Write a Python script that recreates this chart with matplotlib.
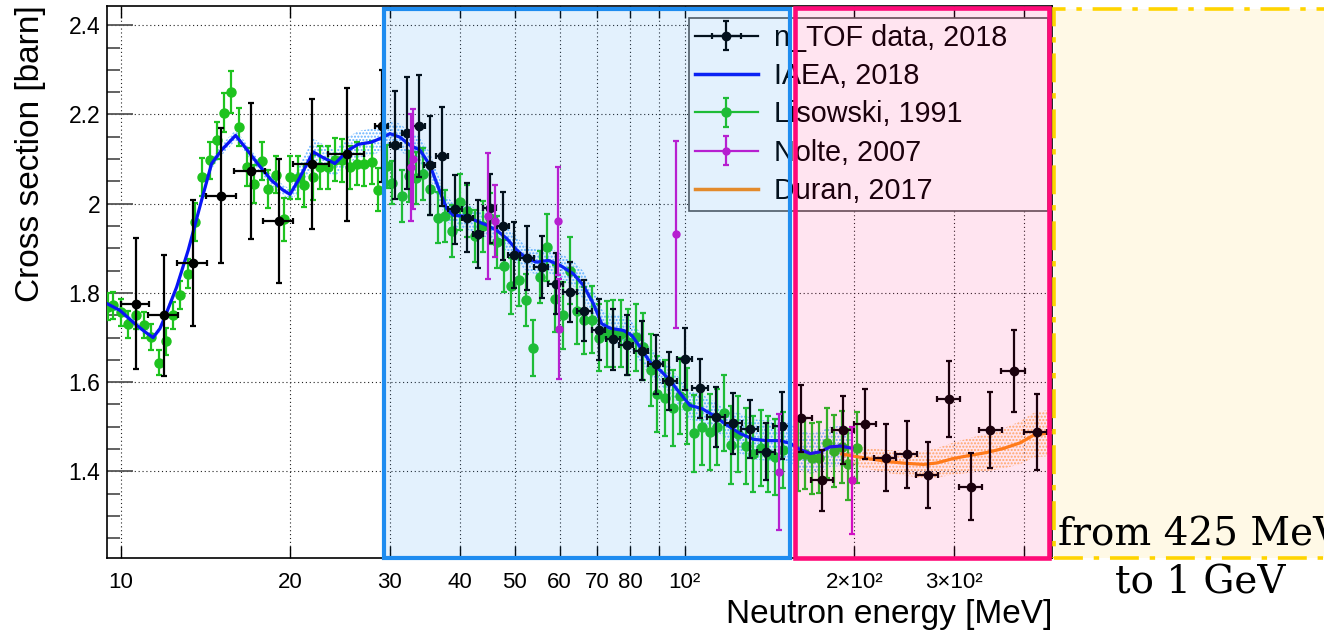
import numpy as np
import matplotlib
matplotlib.use('Agg')
import matplotlib.pyplot as plt
from matplotlib.patches import Rectangle
from matplotlib.lines import Line2D
from matplotlib.ticker import FixedLocator, FixedFormatter, MultipleLocator, NullLocator

plt.rcParams['font.family'] = ['Liberation Sans', 'DejaVu Sans']
plt.rcParams['hatch.linewidth'] = 1.0

# n_TOF data, 2018 (energy bin centre / edges in MeV, cross section in barn)
ntof_e = [10.65, 11.92, 13.45, 15.06, 17.01, 19.11, 21.87, 25.23, 29.03, 30.65,
          32.15, 33.81, 35.32, 37.10, 39.16, 41.18, 43.07, 45.18, 47.59, 49.89,
          52.48, 55.94, 59.09, 62.64, 66.32, 70.43, 74.67, 79.06, 83.95, 88.90,
          93.97, 100.2, 106.6, 113.7, 122.0, 130.6, 139.3, 148.7, 160.9, 175.0,
          191.2, 208.9, 227.4, 247.7, 269.9, 294.7, 321.7, 348.0, 383.4, 421.1]
ntof_lo = [10.00, 11.19, 12.60, 14.15, 15.90, 17.90, 20.23, 23.29, 28.25, 30.03,
           31.50, 33.03, 34.55, 36.24, 38.11, 40.25, 42.20, 43.96, 46.43, 48.69,
           51.07, 54.07, 57.32, 60.95, 64.38, 68.44, 72.56, 76.52, 81.45, 86.25,
           91.48, 96.83, 102.9, 109.4, 117.9, 125.9, 134.2, 143.7, 157.0, 167.3,
           182.4, 199.8, 217.0, 236.1, 257.2, 280.6, 307.0, 332.6, 363.7, 400.4]
ntof_hi = [11.24, 12.65, 14.22, 15.99, 18.05, 20.23, 23.41, 27.04, 29.83, 31.37,
           32.90, 34.65, 36.09, 38.11, 40.25, 42.10, 43.96, 46.30, 48.89, 51.07,
           54.07, 57.32, 60.95, 64.38, 68.44, 72.26, 76.83, 81.14, 86.25, 91.70,
           96.83, 102.9, 110.2, 117.9, 126.2, 135.1, 144.7, 152.8, 168.0, 183.1,
           199.8, 218.5, 237.1, 258.6, 281.8, 307.9, 336.3, 365.2, 401.5, 438.6]
ntof_xs = [1.776, 1.750, 1.867, 2.018, 2.073, 1.961, 2.089, 2.111, 2.174, 2.131,
           2.159, 2.174, 2.086, 2.106, 1.987, 1.969, 1.932, 1.990, 1.950, 1.886,
           1.879, 1.858, 1.821, 1.802, 1.760, 1.718, 1.696, 1.683, 1.670, 1.640,
           1.602, 1.652, 1.586, 1.522, 1.508, 1.494, 1.444, 1.502, 1.519, 1.380,
           1.493, 1.506, 1.431, 1.438, 1.392, 1.562, 1.366, 1.493, 1.625, 1.488]
ntof_err = [0.147, 0.136, 0.141, 0.151, 0.153, 0.139, 0.146, 0.149, 0.125, 0.121,
            0.125, 0.114, 0.111, 0.111, 0.077, 0.078, 0.077, 0.077, 0.077, 0.074,
            0.072, 0.069, 0.068, 0.068, 0.068, 0.068, 0.068, 0.068, 0.066, 0.066,
            0.065, 0.069, 0.067, 0.067, 0.068, 0.065, 0.064, 0.075, 0.075, 0.068,
            0.077, 0.078, 0.075, 0.075, 0.075, 0.085, 0.075, 0.085, 0.092, 0.085]

# IAEA, 2018 evaluation
iaea_e = [9.46, 9.97, 10.60, 11.04, 11.42, 11.74, 11.98, 12.57, 13.18, 13.92,
          14.50, 15.10, 15.99, 16.61, 17.54, 18.52, 19.43, 19.97, 20.65, 21.96,
          22.72, 23.99, 25.33, 26.38, 27.87, 29.22, 30.03, 31.28, 32.59, 33.95,
          35.36, 36.57, 37.85, 38.89, 40.80, 42.78, 44.58, 46.44, 48.37, 50.40,
          52.48, 54.66, 57.33, 60.12, 63.47, 66.12, 68.88, 71.28, 73.74, 77.87,
          80.59, 83.34, 86.82, 90.44, 94.21, 98.13, 102.2, 107.2, 112.4, 118.8,
          125.4, 132.4, 139.8, 147.6, 153.8, 160.2, 166.9, 173.9, 181.1, 188.7,
          197.9]
iaea_xs = [1.776, 1.761, 1.731, 1.713, 1.700, 1.720, 1.746, 1.813, 1.896, 2.008,
           2.090, 2.120, 2.153, 2.127, 2.088, 2.052, 2.030, 2.021, 2.052, 2.116,
           2.105, 2.090, 2.120, 2.133, 2.138, 2.149, 2.157, 2.149, 2.131, 2.120,
           2.086, 2.037, 1.989, 1.974, 1.972, 1.961, 1.952, 1.940, 1.922, 1.896,
           1.877, 1.869, 1.873, 1.862, 1.843, 1.817, 1.776, 1.731, 1.721, 1.716,
           1.705, 1.679, 1.645, 1.627, 1.604, 1.575, 1.548, 1.541, 1.526, 1.504,
           1.485, 1.472, 1.469, 1.469, 1.463, 1.449, 1.440, 1.444, 1.455, 1.457,
           1.452]
iaea_band = [0.008, 0.008, 0.008, 0.008, 0.008, 0.008, 0.008, 0.008, 0.008, 0.008,
             0.012, 0.012, 0.012, 0.012, 0.012, 0.012, 0.012, 0.012, 0.030, 0.030,
             0.030, 0.030, 0.030, 0.030, 0.030, 0.030, 0.030, 0.030, 0.030, 0.030,
             0.028, 0.028, 0.028, 0.028, 0.028, 0.028, 0.028, 0.028, 0.028, 0.028,
             0.028, 0.028, 0.028, 0.028, 0.028, 0.032, 0.032, 0.032, 0.032, 0.032,
             0.032, 0.032, 0.032, 0.032, 0.032, 0.032, 0.032, 0.032, 0.032, 0.032,
             0.045, 0.045, 0.045, 0.045, 0.045, 0.045, 0.045, 0.045, 0.045, 0.045,
             0.045]

# Lisowski, 1991
lis_e = [9.48, 9.70, 10.01, 10.31, 10.65, 11.00, 11.30, 11.71, 12.03, 12.40,
         12.77, 13.16, 13.55, 13.97, 14.38, 14.82, 15.25, 15.69, 16.22, 16.72,
         17.24, 17.78, 18.27, 18.86, 19.46, 19.99, 20.60, 21.18, 21.89, 22.60,
         23.29, 23.99, 24.66, 25.46, 26.25, 27.04, 27.87, 28.63, 29.63, 30.32,
         31.50, 32.42, 33.40, 34.33, 35.36, 36.49, 37.60, 38.64, 39.97, 41.18,
         42.50, 43.86, 45.18, 46.43, 47.84, 49.17, 50.86, 52.27, 53.92, 55.42,
         57.09, 58.92, 60.80, 62.64, 64.38, 66.32, 68.53, 70.60, 72.77, 74.76,
         77.05, 79.48, 81.92, 84.50, 87.10, 89.48, 92.34, 95.52, 98.14, 100.9,
         103.9, 107.2, 110.9, 114.0, 117.5, 120.9, 124.5, 128.3, 132.4, 136.4,
         140.4, 144.7, 149.6, 159.1, 163.5, 168.0, 173.3, 178.6, 184.1, 189.9,
         195.1, 201.9]
lis_xs = [1.769, 1.772, 1.757, 1.730, 1.750, 1.728, 1.701, 1.643, 1.692, 1.750,
          1.795, 1.843, 1.959, 2.060, 2.097, 2.142, 2.204, 2.250, 2.172, 2.082,
          2.044, 2.096, 2.033, 2.065, 1.965, 2.059, 2.058, 2.041, 2.059, 2.082,
          2.082, 2.099, 2.097, 2.082, 2.090, 2.088, 2.093, 2.031, 2.084, 2.047,
          2.017, 2.061, 2.058, 2.066, 2.032, 1.969, 1.972, 1.939, 2.004, 1.984,
          1.927, 1.949, 1.967, 1.914, 1.860, 1.815, 1.828, 1.785, 1.676, 1.835,
          1.902, 1.787, 1.750, 1.850, 1.760, 1.739, 1.740, 1.700, 1.708, 1.710,
          1.709, 1.690, 1.701, 1.679, 1.627, 1.573, 1.564, 1.543, 1.569, 1.546,
          1.485, 1.500, 1.489, 1.500, 1.531, 1.459, 1.484, 1.457, 1.439, 1.452,
          1.439, 1.433, 1.448, 1.437, 1.440, 1.429, 1.431, 1.464, 1.446, 1.455,
          1.416, 1.453]
lis_err = [0.030, 0.030, 0.030, 0.030, 0.030, 0.030, 0.030, 0.028, 0.030, 0.030,
           0.032, 0.033, 0.042, 0.042, 0.042, 0.042, 0.043, 0.047, 0.042, 0.042,
           0.042, 0.042, 0.042, 0.042, 0.048, 0.048, 0.048, 0.048, 0.050, 0.048,
           0.048, 0.048, 0.048, 0.048, 0.048, 0.048, 0.048, 0.048, 0.048, 0.048,
           0.058, 0.058, 0.058, 0.058, 0.058, 0.058, 0.058, 0.058, 0.063, 0.058,
           0.058, 0.058, 0.058, 0.058, 0.058, 0.063, 0.058, 0.058, 0.063, 0.058,
           0.075, 0.075, 0.075, 0.075, 0.075, 0.075, 0.075, 0.075, 0.075, 0.075,
           0.075, 0.075, 0.075, 0.075, 0.080, 0.085, 0.085, 0.085, 0.085, 0.085,
           0.086, 0.085, 0.085, 0.085, 0.085, 0.087, 0.085, 0.085, 0.085, 0.085,
           0.085, 0.085, 0.085, 0.080, 0.080, 0.080, 0.080, 0.078, 0.080, 0.080,
           0.080, 0.080]

# Nolte, 2007
nol_e = [32.73, 33.03, 44.87, 46.11, 59.7, 59.9, 96.46, 147.0, 197.8]
nol_xs = [2.082, 2.101, 1.972, 1.961, 1.961, 1.720, 1.931, 1.399, 1.380]
nol_err = [0.120, 0.112, 0.141, 0.080, 0.121, 0.112, 0.210, 0.130, 0.120]

# Duran, 2017
dur_e = [190.0, 202.0, 216.1, 231.4, 247.7, 265.1, 280.0, 299.6, 320.7, 343.4,
         367.5, 393.3, 415.3, 446.0]
dur_xs = [1.439, 1.433, 1.427, 1.4215, 1.418, 1.4157, 1.419, 1.429, 1.436, 1.4425,
          1.4515, 1.464, 1.481, 1.487]
dur_band = [0.022, 0.022, 0.024, 0.026, 0.028, 0.030, 0.033, 0.036, 0.039, 0.042,
            0.045, 0.048, 0.050, 0.052]

xticks = [10, 20, 30, 40, 50, 60, 70, 80, 90, 100, 200, 300, 400]
xticklabels = ['10', '20', '30', '40', '50', '60', '70', '80', '', '10²', '2×10²', '3×10²', '']

BLUE = '#0814f5'
GREEN = '#1ec31e'
MAGENTA = '#cc10cc'
ORANGE = '#ff8a10'

W, H = 1324, 633
fig = plt.figure(figsize=(W / 100, H / 100), dpi=100)
ax = fig.add_axes([107 / W, 1 - 558 / H, (1052 - 107) / W, (558 - 6) / H])
ax.set_xscale('log')
ax.set_xlim(9.46, 448)
ax.set_ylim(1.206, 2.443)

ie = np.array(iaea_e)
ix = np.array(iaea_xs)
ib = np.array(iaea_band)
ax.fill_between(ie, ix - ib, ix + ib, facecolor='none', edgecolor='#62b0ff',
                hatch='.....', linewidth=0, zorder=1)
de = np.array(dur_e)
dx = np.array(dur_xs)
db = np.array(dur_band)
ax.fill_between(de, dx - db, dx + db, facecolor='none', edgecolor='#ffb868',
                hatch='.....', linewidth=0, zorder=1)

lis = ax.errorbar(lis_e, lis_xs, yerr=lis_err, fmt='o', color=GREEN, ms=6.5,
                  elinewidth=1.6, capsize=2.5, capthick=1.6, zorder=3)
ax.plot(iaea_e, iaea_xs, color=BLUE, lw=2.3, zorder=4)
ax.plot(dur_e, dur_xs, color=ORANGE, lw=2.3, zorder=4)

ne = np.array(ntof_e)
xerr = [ne - np.array(ntof_lo), np.array(ntof_hi) - ne]
ntof = ax.errorbar(ntof_e, ntof_xs, xerr=xerr, yerr=ntof_err, fmt='o', color='black',
                   ms=6, elinewidth=1.6, capsize=2.5, capthick=1.6, zorder=5)
nol = ax.errorbar(nol_e, nol_xs, yerr=nol_err, fmt='o', color=MAGENTA, ms=5,
                  elinewidth=1.6, capsize=2.5, capthick=1.6, zorder=6)

ax.xaxis.set_major_locator(FixedLocator(xticks))
ax.xaxis.set_major_formatter(FixedFormatter(xticklabels))
ax.xaxis.set_minor_locator(NullLocator())
ax.yaxis.set_major_locator(MultipleLocator(0.2))
ax.yaxis.set_minor_locator(MultipleLocator(0.05))
ax.yaxis.set_major_formatter(plt.FuncFormatter(lambda v, p: '%g' % round(v, 2)))

ax.tick_params(axis='y', which='major', direction='in', length=19, width=1.3,
               color='#555555', labelsize=16.5, pad=5, right=False)
ax.tick_params(axis='y', which='minor', direction='in', length=9.5, width=1.3,
               color='#555555', right=False)
ax.tick_params(axis='x', which='major', direction='in', length=8.5, width=1.0,
               top=True, labelsize=16, pad=10)
ax.grid(True, which='major', color='#222222', linestyle=(0, (1, 2.5)), linewidth=0.8)
ax.set_axisbelow(True)
for s in ax.spines.values():
    s.set_linewidth(1.2)

handles = [(Line2D([], [], color='black', lw=1.6), ntof),
           Line2D([], [], color=BLUE, lw=2.5),
           (Line2D([], [], color=GREEN, lw=1.6), lis),
           (Line2D([], [], color=MAGENTA, lw=1.6), nol),
           Line2D([], [], color=ORANGE, lw=2.5)]
labels = ['n_TOF data, 2018', 'IAEA, 2018', 'Lisowski, 1991', 'Nolte, 2007', 'Duran, 2017']
leg = ax.legend(handles, labels, loc='upper left',
                bbox_to_anchor=(689 / W, 1 - 209 / H, 359 / W, 191 / H),
                bbox_transform=fig.transFigure, mode='expand', borderaxespad=0,
                fontsize=20.7, handlelength=2.2, handletextpad=0.55, borderpad=0.2,
                labelspacing=0.36, numpoints=1, fancybox=False, framealpha=1,
                edgecolor='#555555')
leg.get_frame().set_linewidth(1.2)
leg.set_zorder(10)


def box(x0, y0, x1, y1, **kw):
    r = Rectangle((x0 / W, 1 - y1 / H), (x1 - x0) / W, (y1 - y0) / H,
                  transform=fig.transFigure, **kw)
    fig.add_artist(r)
    return r


# highlighted energy ranges
box(1054, 8.5, 1345, 558, facecolor='#fff9e6', edgecolor='#ffd400', lw=2.6,
    linestyle=(0, (8, 3, 1.5, 3)), zorder=4)
box(384, 9, 790, 558, facecolor=(0.118, 0.549, 0.941, 0.12),
    edgecolor='#1e8cf0', lw=3.0, zorder=5)
box(795, 7.5, 1048.5, 558, facecolor=(1.0, 0.04, 0.47, 0.11),
    edgecolor='#ff0a78', lw=3.3, zorder=5)

fig.text(1200 / W, 1 - 546 / H, 'from 425 MeV', family='DejaVu Serif', fontsize=28,
         ha='center', va='baseline', zorder=11)
fig.text(1200 / W, 1 - 593 / H, 'to 1 GeV', family='DejaVu Serif', fontsize=28,
         ha='center', va='baseline', zorder=11)

fig.text(31 / W, 1 - 5 / H, 'Cross section [barn]', rotation=90, fontsize=24,
         ha='center', va='top')
fig.text(1052 / W, 1 - 623 / H, 'Neutron energy [MeV]', fontsize=24,
         ha='right', va='baseline')

fig.savefig('out.png', dpi=100)
